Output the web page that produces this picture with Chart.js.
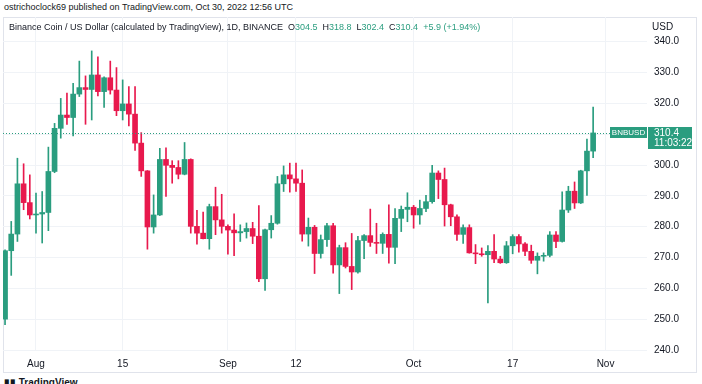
<!DOCTYPE html>
<html>
<head>
<meta charset="utf-8">
<script src="https://cdn.jsdelivr.net/npm/chart.js@4.4.0/dist/chart.umd.min.js"></script>
<style>
  html, body { margin:0; padding:0; background:#fff; width:702px; height:384px; overflow:hidden;
    font-family:"Liberation Sans", Arial, sans-serif; color:#131722; }
  #hdr { position:absolute; left:4px; top:2px; font-size:9px; white-space:nowrap; }
  #box { position:absolute; left:3px; top:17px; width:694px; height:356px; border:1px solid #e0e3eb; box-sizing:border-box; }
  #wrap { position:absolute; left:3px; top:17px; width:694px; height:356px; }
  #legend { position:absolute; left:9px; top:22px; font-size:9px; white-space:nowrap; }
  #legend .v { color:#2a9d7f; }
  #usd { position:absolute; left:652px; top:21px; font-size:10px; }
  #logo { position:absolute; left:4px; top:377px; font-size:10px; font-weight:bold; white-space:nowrap; }
</style>
</head>
<body>
<div id="hdr">ostrichoclock69 published on TradingView.com, Oct 30, 2022 12:56 UTC</div>
<div id="box"></div>
<div id="wrap"><canvas id="myChart"></canvas></div>
<div id="legend">Binance Coin / US Dollar (calculated by TradingView), 1D, BINANCE&nbsp; O<span class="v">304.5</span>&nbsp; H<span class="v">318.8</span>&nbsp; L<span class="v">302.4</span>&nbsp; C<span class="v">310.4</span>&nbsp; <span class="v">+5.9 (+1.94%)</span></div>
<div id="usd">USD</div>
<div id="logo">&#9646;&#9646; TradingView</div>
<script>
// du lieu nen ngay (BNB/USD)
var dates = ['07-27','07-28','07-29','07-30','07-31',
  '08-01','08-02','08-03','08-04','08-05','08-06','08-07','08-08','08-09','08-10',
  '08-11','08-12','08-13','08-14','08-15','08-16','08-17','08-18','08-19','08-20',
  '08-21','08-22','08-23','08-24','08-25','08-26','08-27','08-28','08-29','08-30','08-31',
  '09-01','09-02','09-03','09-04','09-05','09-06','09-07','09-08','09-09','09-10',
  '09-11','09-12','09-13','09-14','09-15','09-16','09-17','09-18','09-19','09-20',
  '09-21','09-22','09-23','09-24','09-25','09-26','09-27','09-28','09-29','09-30',
  '10-01','10-02','10-03','10-04','10-05','10-06','10-07','10-08','10-09','10-10',
  '10-11','10-12','10-13','10-14','10-15','10-16','10-17','10-18','10-19','10-20',
  '10-21','10-22','10-23','10-24','10-25','10-26','10-27','10-28','10-29','10-30'];

var open = [250.0,272.2,277.6,293.9,287.8,
  283.8,284.1,284.6,297.9,311.9,316.2,315.4,323.0,325.1,324.5,
  329.2,323.8,328.3,324.3,317.6,319.8,316.5,307.1,298.1,279.9,
  283.8,301.8,299.9,299.2,297.0,301.8,280.1,277.9,276.1,286.5,282.2,
  280.1,278.9,278.0,278.4,279.4,276.9,263.1,279.0,281.1,293.9,
  296.8,295.5,294.1,277.6,279.8,271.3,275.8,280.3,267.6,273.2,
  267.1,265.3,275.5,277.1,274.9,274.6,277.5,273.3,282.7,285.6,
  286.3,283.8,285.9,288.1,297.4,295.3,287.1,283.2,277.5,279.7,
  271.5,271.2,270.9,272.0,269.5,268.3,273.8,276.8,274.4,272.0,
  269.1,270.4,270.7,277.3,275.2,285.4,291.5,287.7,298.1,304.5];

var high = [272.5,281.7,302.2,300.4,296.8,
  290.9,291.4,305.8,313.5,321.6,323.3,326.5,333.7,328.9,337.0,
  335.1,328.6,333.7,331.6,327.6,325.4,325.4,310.5,298.2,290.3,
  305.4,305.6,301.4,301.4,307.3,302.0,285.3,284.7,287.3,292.8,290.5,
  280.6,284.2,280.6,281.2,281.4,286.8,279.2,283.6,296.3,299.7,
  300.6,300.6,298.4,282.8,280.4,277.3,281.1,281.1,274.0,274.8,
  277.8,276.9,277.4,285.7,281.1,278.0,287.1,285.9,286.7,291.0,
  286.9,288.6,290.2,299.9,298.1,299.0,287.3,283.8,280.6,280.6,
  274.2,273.1,273.9,277.4,270.4,275.2,277.4,277.4,274.8,274.0,
  271.5,271.5,278.4,278.4,291.3,293.1,294.5,298.3,308.4,318.8];

var low = [248.2,264.2,275.2,285.5,282.5,
  277.9,274.7,278.7,297.5,308.7,313.2,309.4,322.2,313.2,314.6,
  322.4,318.7,323.0,316.0,314.6,312.7,304.7,296.3,272.7,277.9,
  283.6,289.8,294.1,295.5,296.8,277.9,274.3,276.0,272.7,277.4,277.9,
  271.1,270.6,275.2,276.3,274.5,262.2,259.3,276.3,280.8,291.4,
  291.2,291.4,275.3,273.7,264.8,269.8,273.6,264.9,258.3,266.6,
  259.6,264.9,269.6,273.6,271.3,271.3,268.2,268.0,278.4,281.6,
  279.5,280.8,284.9,287.6,289.1,280.2,280.3,275.5,274.6,271.4,
  268.0,270.4,255.3,268.3,268.1,268.1,271.2,271.7,270.6,268.1,
  264.7,268.8,270.2,273.2,275.0,284.6,285.9,287.5,290.1,302.4];

var close = [272.2,277.6,293.9,287.8,283.8,
  284.1,284.6,297.9,311.9,316.2,315.4,323.0,325.1,324.5,329.2,
  323.8,328.3,324.3,317.6,319.8,316.5,307.1,298.1,279.9,283.8,
  301.8,299.9,299.2,297.0,301.8,280.1,277.9,276.1,286.5,282.2,280.1,
  278.9,278.0,278.4,279.4,276.9,263.1,279.0,281.1,293.9,296.8,
  295.5,294.1,277.6,279.8,271.3,275.8,280.3,267.6,273.2,267.1,
  265.3,275.5,277.1,274.9,274.6,277.5,273.3,282.7,285.6,286.3,
  283.8,285.9,288.1,297.4,295.3,287.1,283.2,277.5,279.7,271.5,
  271.2,270.9,272.0,269.5,268.3,273.8,276.8,274.4,272.0,269.1,
  270.4,270.7,277.3,275.2,285.4,291.5,287.7,298.1,304.5,310.4];

// moc truc thoi gian (so ngay tinh tu 1/8)
var tickDays = [0, 14, 31, 42, 61, 77, 92];
var tickText = ['Aug', '15', 'Sep', '12', 'Oct', '17', 'Nov'];
var priceTicks = [240, 250, 260, 270, 280, 290, 300, 310, 320, 330, 340];

var xanh = '#2a9d7f';
var do_ = '#e8194d';

function soNgay(d) {
    var p = d.split('-');
    return (Date.UTC(2022, +p[0] - 1, +p[1]) - Date.UTC(2022, 7, 1)) / 86400000;
}

// bo padding tu dong cua truc
function boPadding(s) {
    s.paddingTop = 0; s.paddingBottom = 0; s.paddingLeft = 0; s.paddingRight = 0;
}

// ve gia cuoi + nhan
var giaCuoi = {
    id: 'giaCuoi',
    afterDraw: function (chart) {
        var ctx = chart.ctx, a = chart.chartArea, y = chart.scales.y;
        var last = close[close.length - 1];
        var py = Math.round(y.getPixelForValue(last));
        ctx.save();
        ctx.strokeStyle = xanh;
        ctx.lineWidth = 1;
        ctx.setLineDash([1, 2]);
        ctx.beginPath();
        ctx.moveTo(a.left, py + 0.5);
        ctx.lineTo(a.right - 37, py + 0.5);
        ctx.stroke();
        ctx.setLineDash([]);
        ctx.fillStyle = xanh;
        ctx.fillRect(a.right - 37, py - 6, 37, 11);
        ctx.fillRect(a.right + 1, py - 6, 44, 22);
        ctx.fillStyle = '#fff';
        ctx.font = '8px "Liberation Sans", Arial, sans-serif';
        ctx.textBaseline = 'middle';
        ctx.textAlign = 'center';
        ctx.fillText('BNBUSD', a.right - 18.5, py);
        ctx.textAlign = 'left';
        ctx.font = '10px "Liberation Sans", Arial, sans-serif';
        ctx.fillText(last.toFixed(1), a.right + 7, py);
        ctx.fillText('11:03:22', a.right + 7, py + 10);
        ctx.restore();
    }
};

function VeNen() {
    var xs = dates.map(soNgay);
    var mau = close.map(function (c, i) { return c >= open[i] ? xanh : do_; });
    var than = xs.map(function (x, i) { return { x: x, y: [open[i], close[i]] }; });
    var rau = xs.map(function (x, i) { return { x: x, y: [low[i], high[i]] }; });

    Chart.defaults.font.family = '"Liberation Sans", Arial, sans-serif';
    Chart.defaults.font.size = 10;
    Chart.defaults.color = '#131722';

    new Chart('myChart', {
        type: 'bar',
        data: {
            datasets: [
                { data: than, backgroundColor: mau, barThickness: 5, borderWidth: 0, order: 1 },
                { data: rau, backgroundColor: mau, barThickness: 1, borderWidth: 0, order: 2 }
            ]
        },
        options: {
            responsive: true,
            maintainAspectRatio: false,
            animation: false,
            grouped: false,
            layout: { padding: 0 },
            plugins: { legend: { display: false }, tooltip: { enabled: false } },
            scales: {
                x: {
                    type: 'linear',
                    offset: false,
                    min: -5.33,
                    max: 98.7,
                    afterBuildTicks: function (s) { s.ticks = tickDays.map(function (v) { return { value: v }; }); },
                    afterFit: function (s) { s.height = 23; boPadding(s); },
                    ticks: {
                        autoSkip: false, maxRotation: 0, padding: 8,
                        callback: function (v) { return tickText[tickDays.indexOf(v)]; }
                    },
                    grid: { color: '#f0f3f7', drawTicks: false, offset: false },
                    border: { display: false }
                },
                y: {
                    position: 'right',
                    min: 240,
                    max: 348,
                    afterBuildTicks: function (s) { s.ticks = priceTicks.map(function (v) { return { value: v }; }); },
                    afterFit: function (s) { s.width = 50; boPadding(s); },
                    ticks: { padding: 7, callback: function (v) { return v.toFixed(1); } },
                    grid: { color: '#f0f3f7', drawTicks: false },
                    border: { display: false }
                }
            }
        },
        plugins: [giaCuoi]
    });
}

VeNen();
</script>
</body>
</html>
